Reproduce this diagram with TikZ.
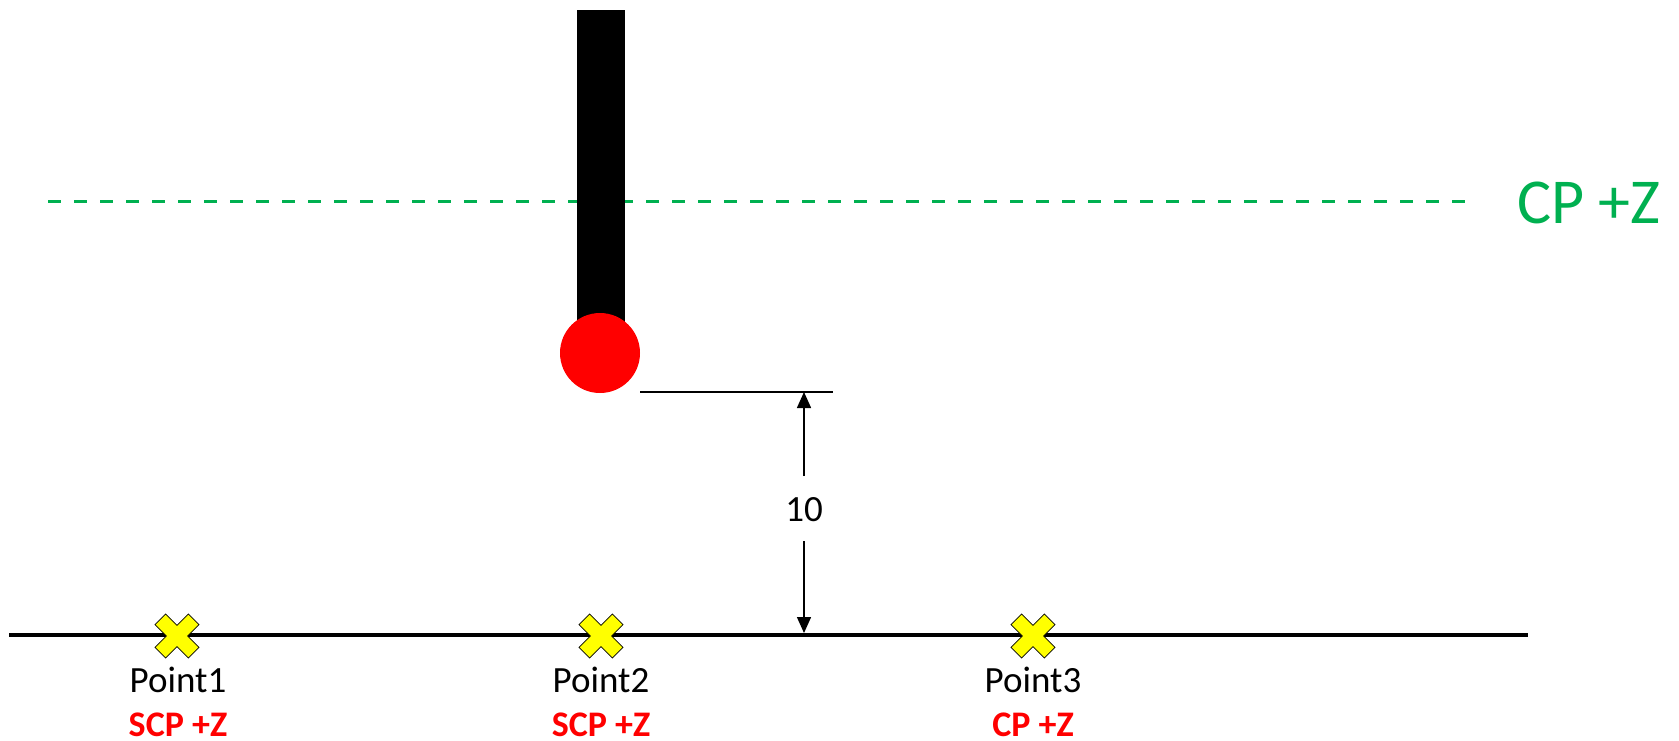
\documentclass[tikz,border=0pt]{standalone}
\usepackage{fontspec}
\setmainfont{Carlito}
\usetikzlibrary{arrows.meta}
\definecolor{cpgreen}{HTML}{00B050}
\definecolor{ptred}{HTML}{FF0000}
\definecolor{ptyellow}{HTML}{FFFF00}
\tikzset{
  ptlabel/.style={anchor=base,inner sep=0pt,font=\fontsize{37}{44}\selectfont},
  modelabel/.style={anchor=base,inner sep=0pt,text depth=0pt,text=ptred,font=\fontsize{36}{43}\selectfont\bfseries},
  dimline/.style={line width=1.5pt,-{Triangle[length=16pt,width=14pt]}},
  crossmark/.pic={
    \fill[ptyellow,draw=black,line width=0.8pt]
      (-11.4,-22) -- (0,-10.6) -- (11.4,-22) -- (22,-11.4) -- (10.6,0) -- (22,11.4)
      -- (11.4,22) -- (0,10.6) -- (-11.4,22) -- (-22,11.4) -- (-10.6,0) -- (-22,-11.4) -- cycle;
  }
}
\begin{document}
\begin{tikzpicture}[x=1pt,y=-1pt]
\useasboundingbox (0,0) rectangle (1679,740);
% green dashed CP line
\coordinate (cpL) at (48,201);
\coordinate (cpR) at (1478,201);
\draw[cpgreen,line width=3pt,dash pattern=on 13pt off 13pt] (cpL) -- (cpR);
\node[anchor=base west,inner sep=0pt,text=cpgreen,font=\fontsize{64}{74}\selectfont] (cplabel) at (1517,223) {CP +Z};
% probe
\fill[black] (577,10) rectangle (625,353);
\fill[ptred] (600,353) circle (40);
% ground line
\coordinate (gL) at (9,635);
\coordinate (gR) at (1528,635);
\draw[line width=4pt] (gL) -- (gR);
% dimension
\coordinate (dL) at (640,392);
\coordinate (dR) at (833,392);
\draw[line width=1.5pt] (dL) -- (dR);
\coordinate (aTop) at (804,392);
\coordinate (aBot) at (804,633);
\node[ptlabel] (dim) at (804,521) {10};
\coordinate (gapTop) at (804,476);
\coordinate (gapBot) at (804,541);
\draw[dimline] (gapTop) -- (aTop);
\draw[dimline] (gapBot) -- (aBot);
% points
\coordinate (p1) at (177,636);
\coordinate (p2) at (601,636);
\coordinate (p3) at (1033,636);
\pic at (p1) {crossmark};
\pic at (p2) {crossmark};
\pic at (p3) {crossmark};
\node[ptlabel] (l1) at (178,692) {Point1};
\node[ptlabel] (l2) at (601,692) {Point2};
\node[ptlabel] (l3) at (1033,692) {Point3};
\node[modelabel] (m1) at (178,736) {SCP +Z};
\node[modelabel] (m2) at (601,736) {SCP +Z};
\node[modelabel] (m3) at (1033,736) {CP +Z};
\end{tikzpicture}
\end{document}
